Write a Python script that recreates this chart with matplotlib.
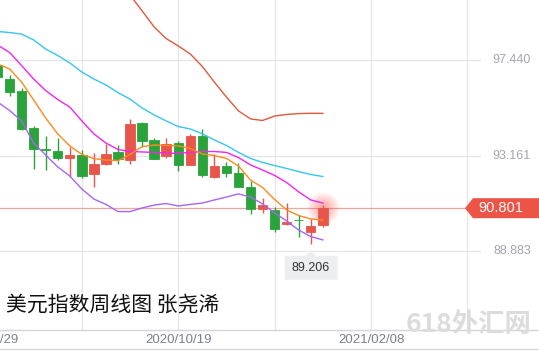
import matplotlib
matplotlib.use('Agg')
import matplotlib.pyplot as plt
import numpy as np
from matplotlib.patches import Polygon, Rectangle
from matplotlib.lines import Line2D
from matplotlib.transforms import blended_transform_factory, IdentityTransform

# ---------------- data (weekly US dollar index, weeks from 2020/07/06) ----------------
opens  = [97.22, 96.60, 96.06, 94.38, 93.44, 93.36, 93.05, 93.20, 92.33, 92.77, 93.32, 92.96, 94.62, 93.84,
          93.15, 93.72, 92.74, 94.04, 92.21, 92.69, 92.39, 91.75, 90.75, 90.72, 90.09, 90.29, 89.75, 90.05]
highs  = [97.30, 96.77, 96.17, 94.48, 94.04, 93.93, 93.53, 93.41, 93.29, 93.68, 93.63, 94.80, 94.66, 93.96,
          93.96, 93.82, 94.11, 94.34, 93.21, 92.87, 92.83, 92.02, 91.27, 90.87, 91.05, 90.49, 90.30, 90.95]
lows   = [96.62, 95.84, 94.30, 92.56, 92.51, 92.96, 92.19, 92.14, 91.76, 92.72, 92.78, 92.78, 93.56, 93.00,
          93.06, 92.48, 92.73, 92.21, 92.17, 92.21, 91.75, 90.53, 90.60, 89.75, 90.03, 89.52, 89.206, 89.95]
closes = [96.68, 96.00, 94.35, 93.45, 93.42, 93.06, 93.17, 92.26, 92.77, 93.22, 93.00, 94.57, 93.82, 93.02,
          93.68, 92.74, 94.04, 92.29, 92.69, 92.39, 91.76, 90.76, 90.94, 89.87, 90.18, 90.25, 90.00, 90.801]

ma_orange  = [97.26, 97.04, 96.45, 95.65, 94.84, 94.13, 93.59, 93.21, 93.02, 92.96, 92.93, 93.21, 93.56, 93.63,
              93.61, 93.59, 93.48, 93.23, 93.16, 93.03, 92.69, 92.06, 91.73, 91.19, 90.72, 90.47, 90.32, 90.27]
ma_magenta = [98.11, 97.78, 97.19, 96.59, 96.07, 95.67, 95.33, 94.71, 94.13, 93.72, 93.43, 93.34, 93.32, 93.30,
              93.27, 93.26, 93.30, 93.34, 93.34, 93.30, 93.07, 92.74, 92.51, 92.27, 91.95, 91.53, 91.17, 91.03]
ma_cyan    = [98.72, 98.67, 98.60, 98.34, 97.93, 97.64, 97.31, 96.90, 96.59, 96.32, 95.98, 95.69, 95.29, 94.98,
              94.71, 94.46, 94.35, 94.13, 93.86, 93.61, 93.30, 93.03, 92.85, 92.71, 92.58, 92.44, 92.31, 92.22]
ma_red     = [np.nan] * 11 + [100.35, 99.64, 98.92, 98.40, 98.07, 97.71, 97.15, 96.45, 95.78, 95.16, 94.80,
                              94.73, 94.93, 95.00, 95.04, 95.05, 95.05]
ma_purple  = [95.56, 95.18, 94.71, 93.72, 93.18, 92.65, 92.24, 91.66, 91.21, 90.97, 90.65, 90.65, 90.81, 90.94,
              91.01, 90.90, 90.97, 91.03, 91.17, 91.30, 91.44, 91.30, 90.99, 90.59, 90.23, 89.82, 89.53, 89.38]

ytick_vals   = [97.440, 93.161, 88.883]
ytick_labels = ['97.440', '93.161', '88.883']
grid_weeks   = [-1, 7, 15, 23, 31, 39]
date_weeks   = [-1, 15, 31]
date_labels  = ['2020/06/29', '2020/10/19', '2021/02/08']
last_price   = 90.801
low_label    = '89.206'
title_text   = '美元指数周线图 张尧浠'
watermark    = '618外汇网'

# ---------------- figure ----------------
W, H = 539, 351
fig = plt.figure(figsize=(W / 100, H / 100), dpi=100)
fig.patch.set_facecolor('white')
ax = fig.add_axes([0, 21 / H, 1, 330 / H])
ax.set_facecolor('white')
ax.set_xlim(0.2075, 44.94)
ax.set_ylim(85.344, 100.128)
for s in ['top', 'left', 'right']:
    ax.spines[s].set_visible(False)
ax.spines['bottom'].set_color('#d3d4dc')
ax.spines['bottom'].set_linewidth(1.0)
ax.set_xticks([])
ax.set_yticks([])

GRID = '#e6e6ea'
for p in ytick_vals:
    ax.axhline(p, xmin=0, xmax=480 / W, color=GRID, lw=0.9, zorder=0)
for k in grid_weeks:
    ax.axvline(k, color=GRID, lw=0.9, zorder=0)

# current price line
ax.axhline(last_price, xmin=0, xmax=465 / W, color='#f0a59c', lw=0.9, zorder=1)

x = np.arange(len(opens))
RED, GREEN = '#e8554a', '#2ba33b'

# glow around last candle
for r in np.linspace(16, 3, 12):
    ax.scatter([x[-1]], [last_price], s=(r * 0.72 * 2) ** 2, color='#ff5a50', alpha=0.05, lw=0, zorder=1.5)

for i in x:
    o, h, l, c = opens[i], highs[i], lows[i], closes[i]
    col = RED if c >= o else GREEN
    ax.vlines(i, l, h, color=col, lw=1.0, zorder=2)
    ax.bar(i, abs(c - o), bottom=min(o, c), width=0.78, color=col, edgecolor=col, lw=0.6, zorder=3)

lw = 1.0
ax.plot(x, ma_red, color='#e0593d', lw=lw, zorder=4)
ax.plot(x, ma_cyan, color='#35c6ef', lw=lw, zorder=4)
ax.plot(x, ma_magenta, color='#f224f2', lw=lw, zorder=4)
ax.plot(x, ma_orange, color='#ff8a1c', lw=lw, zorder=4)
ax.plot(x, ma_purple, color='#a765f7', lw=lw, zorder=4)

# price labels on the right
tr_y = blended_transform_factory(fig.transFigure, ax.transData)
for p, lab in zip(ytick_vals, ytick_labels):
    fig.text(531 / W, p, lab, transform=tr_y, ha='right', va='center',
             fontsize=9, color='#a3a4b0', family='Liberation Sans')

# date labels
tr_x = blended_transform_factory(ax.transData, fig.transFigure)
for k, lab in zip(date_weeks, date_labels):
    ax.text(k, (H - 340) / H, lab, transform=tr_x, ha='center', va='center',
            fontsize=9.5, color='#7d7f8e', family='Liberation Sans', clip_on=False)

fig.add_artist(Line2D([0, 1], [2 / H, 2 / H], transform=fig.transFigure, color='#d8d9e0', lw=1.0))

fig.canvas.draw()
# current price tag
py = ax.transData.transform((0, last_price))[1]
tag = Polygon([[465, py], [473, py + 10], [W, py + 10], [W, py - 10], [473, py - 10]],
              closed=True, transform=IdentityTransform(), facecolor='#ec5446', edgecolor='none', zorder=10)
fig.add_artist(tag)
fig.text(501 / W, py / H, f'{last_price:.3f}', ha='center', va='center', fontsize=10.5,
         color='white', family='Liberation Sans', zorder=11)

# low label
lx, ly = ax.transData.transform((26, 89.206))
bx0, bx1 = lx - 26, lx + 27
by1 = ly - 12
by0 = by1 - 24
box = Polygon([[bx0, by0], [bx1, by0], [bx1, by1], [lx + 5, by1], [lx, by1 + 6], [lx - 5, by1], [bx0, by1]],
              closed=True, transform=IdentityTransform(), facecolor='#eceef1', edgecolor='none', zorder=10)
fig.add_artist(box)
fig.text(lx / W, (by0 + by1) / 2 / H, low_label, ha='center', va='center', fontsize=9,
         color='#333333', family='Liberation Sans', zorder=11)

# title
fig.text(6 / W, (H - 305) / H, title_text, ha='left', va='center', fontsize=15,
         color='#111111', family=['Noto Sans CJK SC', 'DejaVu Sans'], zorder=12)

# watermark
fig.text(469 / W, (H - 325) / H, watermark, ha='center', va='center', fontsize=19, fontweight='bold',
         color='#dcdcdc', family=['Noto Sans CJK SC', 'DejaVu Sans'], zorder=12)

fig.savefig('out.png', dpi=100, facecolor='white')
